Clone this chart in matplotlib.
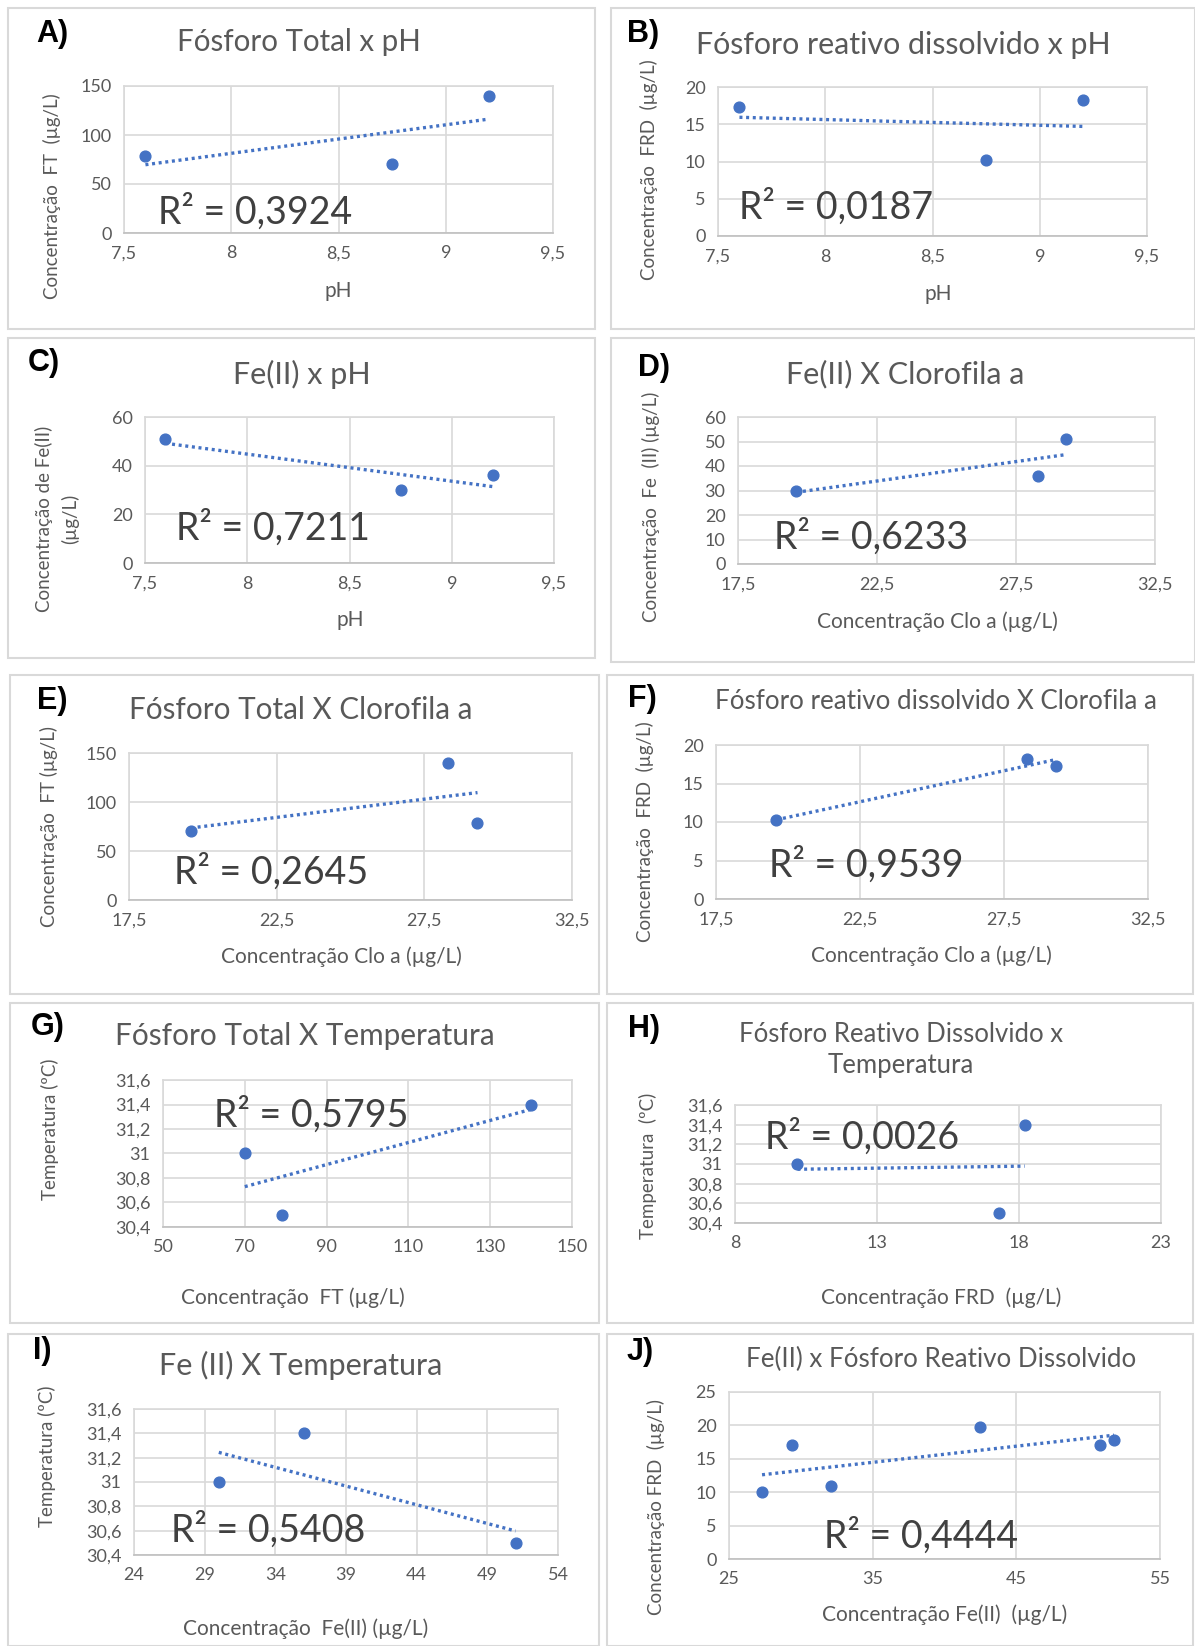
import matplotlib
matplotlib.use("Agg")
import matplotlib.pyplot as plt
import numpy as np
from matplotlib.patches import Rectangle
from matplotlib.ticker import FixedLocator, FuncFormatter

plt.rcParams['font.family'] = ['Lato', 'DejaVu Sans']

# values per sampling site
ph = [7.6, 8.75, 9.2]
ft = [79, 70, 140]          # Fósforo total (µg/L)
frd = [17.3, 10.2, 18.2]    # Fósforo reativo dissolvido (µg/L)
fe = [51, 30, 36]           # Fe(II) (µg/L)
clo = [29.3, 19.6, 28.3]    # Clorofila a (µg/L)
temp = [30.5, 31.0, 31.4]   # Temperatura (ºC)

# panel J has its own six points
fe_j = [27.3, 29.4, 32.1, 42.5, 50.8, 51.8]
frd_j = [10, 17, 11, 19.8, 17, 17.8]

letters = ['A)', 'B)', 'C)', 'D)', 'E)', 'F)', 'G)', 'H)', 'I)', 'J)']
titles = ['Fósforo Total x pH', 'Fósforo reativo dissolvido x pH', 'Fe(II) x pH',
          'Fe(II) X Clorofila a', 'Fósforo Total X Clorofila a',
          'Fósforo reativo dissolvido X Clorofila a', 'Fósforo Total X Temperatura',
          'Fósforo Reativo Dissolvido x\nTemperatura', 'Fe (II) X Temperatura',
          'Fe(II) x Fósforo Reativo Dissolvido']
r2_labels = ['0,3924', '0,0187', '0,7211', '0,6233', '0,2645',
             '0,9539', '0,5795', '0,0026', '0,5408', '0,4444']
xlabels = ['pH', 'pH', 'pH', 'Concentração Clo a (µg/L)', 'Concentração Clo a (µg/L)',
           'Concentração Clo a (µg/L)', 'Concentração  FT (µg/L)',
           'Concentração FRD  (µg/L)', 'Concentração  Fe(II) (µg/L)',
           'Concentração Fe(II)  (µg/L)']
ylabels = ['Concentração  FT  (µg/L)', 'Concentração  FRD  (µg/L)',
           'Concentração de Fe(II)\n(µg/L)', 'Concentração  Fe  (II) (µg/L)',
           'Concentração  FT (µg/L)', 'Concentração  FRD  (µg/L)',
           'Temperatura (ºC)', 'Temperatura  (ºC)', 'Temperatura (ºC)',
           'Concentração FRD  (µg/L)']
xdata = [ph, ph, ph, clo, clo, clo, ft, frd, fe, fe_j]
ydata = [ft, frd, fe, fe, ft, frd, temp, temp, temp, frd_j]
xticks = [[7.5, 8, 8.5, 9, 9.5]] * 3 + [[17.5, 22.5, 27.5, 32.5]] * 3 + \
         [[50, 70, 90, 110, 130, 150], [8, 13, 18, 23], [24, 29, 34, 39, 44, 49, 54],
          [25, 35, 45, 55]]
temp_ticks = [30.4, 30.6, 30.8, 31, 31.2, 31.4, 31.6]
yticks = [[0, 50, 100, 150], [0, 5, 10, 15, 20], [0, 20, 40, 60],
          [0, 10, 20, 30, 40, 50, 60], [0, 50, 100, 150], [0, 5, 10, 15, 20],
          temp_ticks, temp_ticks, temp_ticks, [0, 5, 10, 15, 20, 25]]

# layout in pixels of the 1195x1646 image
W, H = 1195, 1646
boxes = [(8, 8, 595, 329), (611, 8, 1195, 329), (8, 338, 595, 658), (611, 338, 1195, 662),
         (10, 675, 599, 994), (607, 675, 1193, 994), (10, 1003, 599, 1323),
         (607, 1003, 1193, 1323), (8, 1334, 599, 1646), (607, 1334, 1193, 1646)]
plots = [(124, 86, 553, 233), (718, 87, 1147, 236), (145, 417, 554, 563),
         (738, 417, 1155, 564), (129, 753, 572, 900), (716, 745, 1148, 899),
         (163, 1080, 572, 1227), (735, 1105, 1161, 1223), (134, 1409, 558, 1555),
         (729, 1392, 1160, 1559)]
letter_pos = [(52, 34), (643, 34), (44, 363), (654, 368), (52, 701), (642, 699),
              (48, 1027), (644, 1029), (42, 1351), (640, 1352)]
title_pos = [(299, 42), (903, 45), (302, 374), (905, 374), (301, 710), (936, 701),
             (305, 1036), (901, 1050), (301, 1365), (941, 1359)]
title_w = [244, 416, 138, 239, 343, 443, 381, 324, 286, 391]
r2_pos = [(255, 212), (836, 207), (273, 528), (871, 537), (271, 872), (866, 865),
          (311, 1115), (862, 1137), (268, 1530), (921, 1536)]
xlab_pos = [(338, 291), (938, 294), (350, 620), (937, 622), (341, 957), (931, 956),
            (293, 1298), (941, 1298), (306, 1629), (945, 1615)]
ylab_pos = [(52, 196), (649, 170), (57, 519), (651, 507), (49, 827), (645, 832),
            (50, 1129), (648, 1166), (47, 1456), (656, 1507)]

GRAY = '#595959'
GRID = '#d9d9d9'
BLUE = '#4472c4'


def fx(x):
    return x / W


def fy(y):
    return 1 - y / H


def comma(v, pos):
    return ('%g' % v).replace('.', ',')


fig = plt.figure(figsize=(W / 100, H / 100), dpi=100)
renderer = fig.canvas.get_renderer()

for i in range(10):
    bx0, by0, bx1, by1 = boxes[i]
    fig.patches.append(Rectangle((fx(bx0), fy(by1)), fx(bx1 - bx0), (by1 - by0) / H,
                                 transform=fig.transFigure, fill=False,
                                 edgecolor=GRID, lw=1.5))

    x0, y0, x1, y1 = plots[i]
    ax = fig.add_axes([fx(x0), fy(y1), fx(x1 - x0), (y1 - y0) / H])
    xs = np.array(xdata[i], dtype=float)
    ys = np.array(ydata[i], dtype=float)

    ax.scatter(xs, ys, s=60, color=BLUE, zorder=3, clip_on=False)
    # linear trendline (Excel style) over the data range
    k, b = np.polyfit(xs, ys, 1)
    xl = np.array([xs.min(), xs.max()])
    ax.plot(xl, k * xl + b, color=BLUE, lw=2.4, linestyle=(0, (0.9, 1.1)), zorder=2)

    ax.set_xlim(xticks[i][0], xticks[i][-1])
    ax.set_ylim(yticks[i][0], yticks[i][-1])
    ax.xaxis.set_major_locator(FixedLocator(xticks[i]))
    ax.yaxis.set_major_locator(FixedLocator(yticks[i]))
    ax.xaxis.set_major_formatter(FuncFormatter(comma))
    ax.yaxis.set_major_formatter(FuncFormatter(comma))
    ax.tick_params(length=0, labelsize=13, labelcolor=GRAY, pad=9)
    ax.grid(True, color=GRID, lw=1.2)
    ax.set_axisbelow(True)
    for sp in ax.spines.values():
        sp.set_color(GRID)
        sp.set_linewidth(1.2)
    ax.spines['bottom'].set_color('#bfbfbf')

    fig.text(fx(letter_pos[i][0]), fy(letter_pos[i][1]), letters[i], fontsize=22,
             fontweight='bold', family='Liberation Sans', color='black',
             ha='center', va='center')
    t = fig.text(fx(title_pos[i][0]), fy(title_pos[i][1]), titles[i], fontsize=16,
                 color=GRAY, ha='center', va='center', linespacing=1.3)
    # scale the title so its width matches the reference
    w = t.get_window_extent(renderer).width
    t.set_fontsize(16 * title_w[i] / w)
    fig.text(fx(r2_pos[i][0]), fy(r2_pos[i][1]), 'R² = ' + r2_labels[i], fontsize=27,
             color='#404040', ha='center', va='center')
    fig.text(fx(xlab_pos[i][0]), fy(xlab_pos[i][1]), xlabels[i], fontsize=15,
             color=GRAY, ha='center', va='center')
    fig.text(fx(ylab_pos[i][0]), fy(ylab_pos[i][1]), ylabels[i], fontsize=13.5,
             color=GRAY, ha='center', va='center', rotation=90, linespacing=1.5)

fig.savefig('out.png', dpi=100, facecolor='white')
